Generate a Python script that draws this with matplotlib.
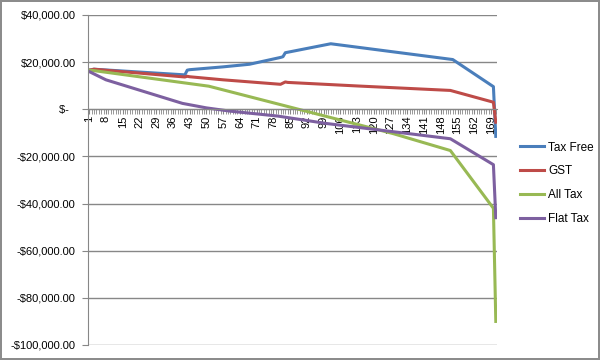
import numpy as np
import matplotlib.pyplot as plt
from matplotlib.ticker import FuncFormatter, MultipleLocator

# breakpoints (category index, value)
tax_free_x = [1, 3, 41, 42, 43, 57, 68, 81, 82, 83, 102, 153, 170, 171]
tax_free_y = [16600, 17000, 14600, 16600, 16800, 18000, 19100, 22000, 22300, 24000, 27800, 21100, 9600, -11500]

gst_x = [1, 3, 41, 42, 43, 57, 81, 83, 84, 113, 152, 170, 171]
gst_y = [16600, 17000, 13700, 14000, 13800, 12500, 10600, 11600, 11400, 9900, 8000, 3000, -5500]

all_tax_x = [1, 3, 51, 128, 152, 170, 171]
all_tax_y = [16600, 16400, 9800, -10300, -17500, -42000, -90000]

flat_tax_x = [1, 8, 40, 50, 60, 80, 100, 128, 152, 170, 171]
flat_tax_y = [16000, 12500, 2500, 600, -800, -2900, -6000, -9500, -12500, -23500, -46000]

n_cats = 171
labels = ["Tax Free", "GST", "All Tax", "Flat Tax"]
colors = ["#4A7EBB", "#BE4B48", "#98B954", "#7D60A0"]

plt.rcParams["font.family"] = ["Liberation Sans", "DejaVu Sans"]
grid_c = "#878787"

fig = plt.figure(figsize=(6, 3.6), dpi=100, edgecolor="#8c8c8c", linewidth=1.5)
ax = fig.add_axes([88 / 600, 15 / 360, (497 - 88) / 600, 330 / 360])

series = [(tax_free_x, tax_free_y), (gst_x, gst_y), (all_tax_x, all_tax_y), (flat_tax_x, flat_tax_y)]
for (xs, ys), lab, c in zip(series, labels, colors):
    ax.plot(xs, ys, color=c, lw=2.2, label=lab, solid_joinstyle="round")

ax.set_xlim(0.5, n_cats + 0.5)
ax.set_ylim(-100000, 40000)
ax.yaxis.set_major_locator(MultipleLocator(20000))
ax.grid(axis="y", color=grid_c, lw=1)
ax.set_axisbelow(True)


def money(v, pos):
    if abs(v) < 1:
        return "$-  "
    s = "${:,.2f}".format(abs(v))
    return "-" + s if v < 0 else s


ax.yaxis.set_major_formatter(FuncFormatter(money))

# category axis crossing at zero
ax.spines["bottom"].set_position(("data", 0))
for side in ["top", "right"]:
    ax.spines[side].set_visible(False)
for side in ["left", "bottom"]:
    ax.spines[side].set_color(grid_c)

major = np.arange(1, n_cats + 1, 7)
ax.set_xticks(major)
ax.set_xticklabels([str(m) for m in major], rotation=90, fontsize=8)
ax.set_xticks(np.arange(1, n_cats + 1), minor=True)
ax.tick_params(axis="x", which="both", direction="out", length=3.5, color=grid_c, pad=1)
ax.tick_params(axis="y", direction="out", length=4, color=grid_c, labelsize=8, pad=5)

fig.legend(loc="upper left", bbox_to_anchor=(509 / 600, 1 - 131 / 360), frameon=False,
           fontsize=8.5, handlelength=2.1, handletextpad=0.3, labelspacing=1.0)

fig.savefig("out.png", dpi=100)
